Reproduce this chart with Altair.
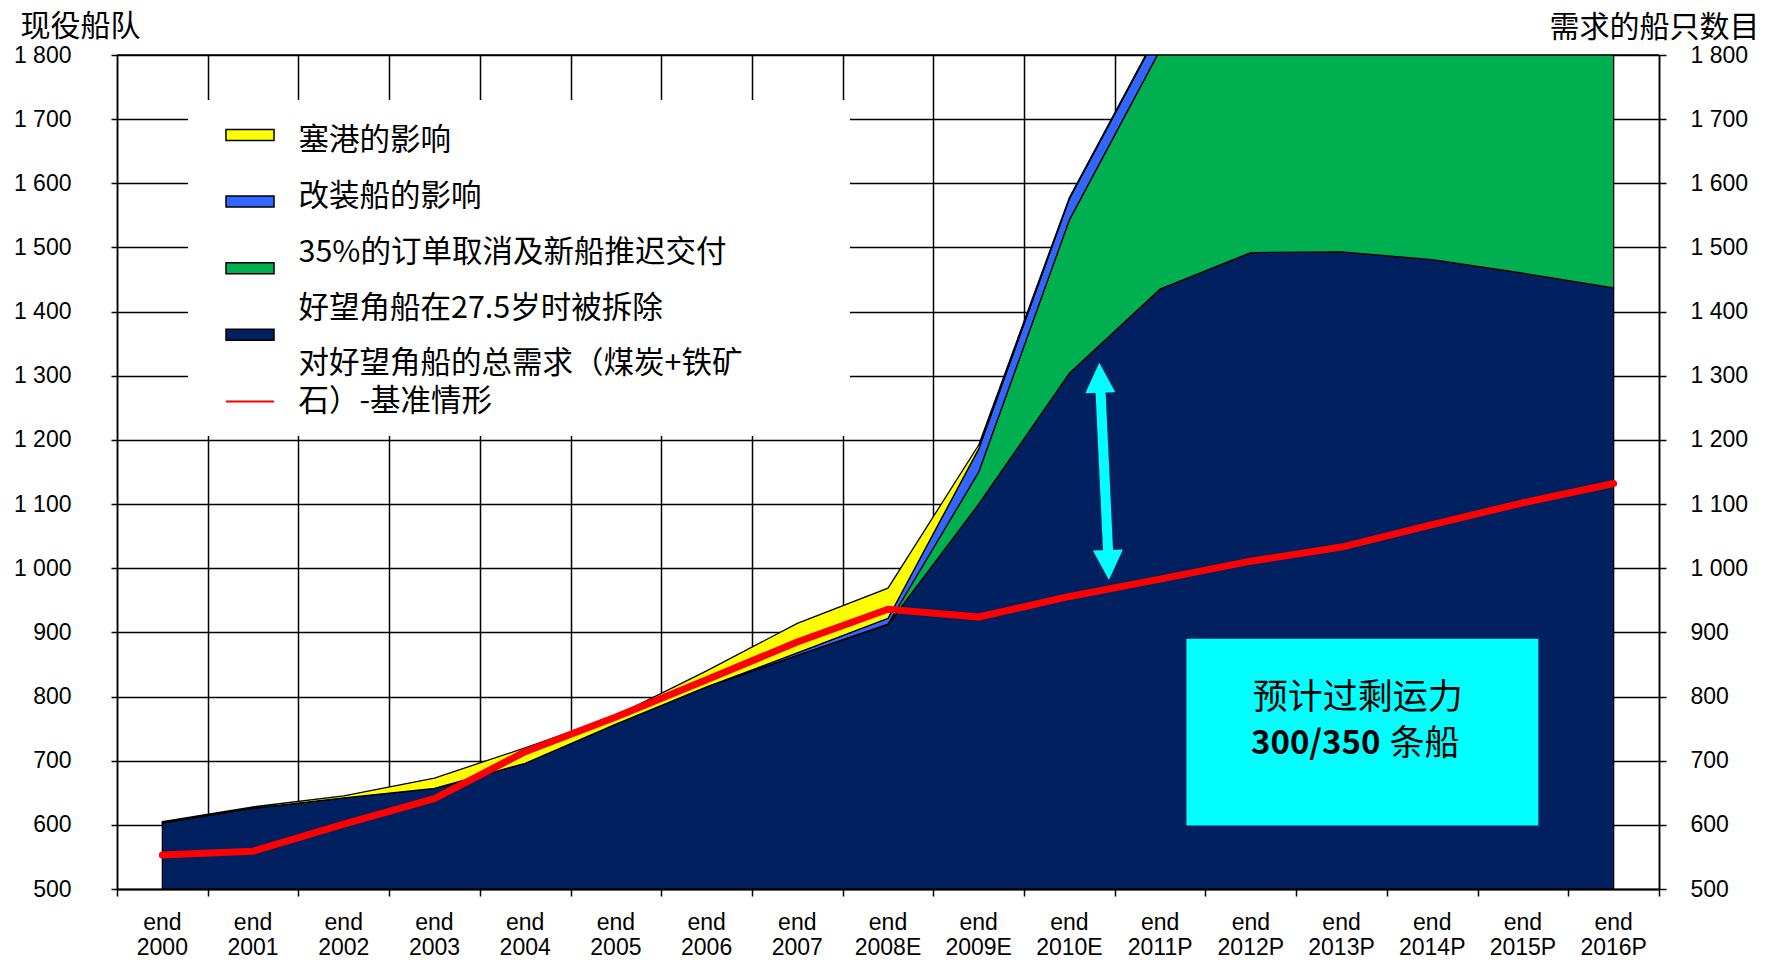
import altair as alt
import pandas as pd

# ---------------- data ----------------
years = ["2000", "2001", "2002", "2003", "2004", "2005", "2006", "2007", "2008E",
         "2009E", "2010E", "2011P", "2012P", "2013P", "2014P", "2015P", "2016P"]
# cumulative tops of the stacked layers (number of ships)
fleet_scrapped = [603, 626, 642, 657, 696, 757, 815, 864, 912, 1100, 1304, 1435, 1492, 1493, 1481, 1460, 1437]
with_cancel = [603, 626, 642, 657, 696, 757, 815, 864, 913, 1150, 1543, 1808, 1950, 2000, 2040, 2070, 2090]
with_convert = [603, 626, 642, 657, 696, 757, 815, 868, 922, 1186, 1576, 1840, 1980, 2030, 2070, 2100, 2120]
with_congest = [605, 628, 645, 673, 720, 770, 840, 914, 969, 1192, 1578, 1842, 1982, 2032, 2072, 2102, 2122]
demand = [553, 559, 601, 641, 714, 768, 826, 885, 936, 924, 956, 983, 1011, 1033, 1068, 1102, 1132]

legend_labels = ["塞港的影响", "改装船的影响", "35%的订单取消及新船推迟交付",
                 "好望角船在27.5岁时被拆除", "对好望角船的总需求（煤炭+铁矿", "石）-基准情形"]
y_ticks = list(range(500, 1801, 100))

NAVY = "#002060"
GREEN = "#00B050"
BLUE = "#3366FF"
YELLOW = "#FFFF00"
RED = "#FF0000"
CYAN = "#00FFFF"

n = len(years)
df = pd.DataFrame({
    "i": list(range(n)),
    "year": years,
    "lab": ["end"] * n,
    "base": [500] * n,
    "navy": fleet_scrapped,
    "green": with_cancel,
    "blue": with_convert,
    "yellow": with_congest,
    "demand": demand,
})

W, H = 1542, 834
CJK = "Noto Sans CJK SC"
LAT = "Liberation Sans"

xscale = alt.Scale(domain=[-0.5, n - 0.5], nice=False, zero=False)
yscale = alt.Scale(domain=[500, 1800], nice=False, zero=False)

x_axis = alt.Axis(values=[k - 0.5 for k in range(n + 1)], labels=False, title=None,
                  grid=True, gridColor="black", gridWidth=1.5, gridOpacity=1,
                  ticks=True, tickSize=7, tickColor="black", tickWidth=1.5,
                  domain=True, domainColor="black", domainWidth=2)

label_expr = ("datum.value >= 1000 ? slice(format(datum.value,'d'),0,1) + ' ' + "
              "slice(format(datum.value,'d'),1) : format(datum.value,'d')")

y_left = alt.Axis(values=y_ticks, labelExpr=label_expr, orient="left", labelOverlap=False,
                  grid=True, gridColor="black", gridWidth=1.5, gridOpacity=1,
                  tickSize=6, tickColor="black", tickWidth=1.5,
                  domain=True, domainColor="black", domainWidth=1.5,
                  labelFont=LAT, labelFontSize=23, labelColor="black", labelPadding=40,
                  title="现役船队", titleAngle=0, titleX=-97, titleY=-29, titleAlign="left",
                  titleBaseline="middle", titleFont=CJK, titleFontSize=30,
                  titleFontWeight="normal", titleColor="black")

y_right = alt.Axis(values=y_ticks, labelExpr=label_expr, orient="right", labelOverlap=False,
                   grid=False, tickSize=7, tickColor="black", tickWidth=1.5,
                   domain=True, domainColor="black", domainWidth=1.5,
                   labelFont=LAT, labelFontSize=23, labelColor="black", labelPadding=24,
                   title="需求的船只数目", titleAngle=0, titleX=100, titleY=-28, titleAlign="right",
                   titleBaseline="middle", titleFont=CJK, titleFontSize=30,
                   titleFontWeight="normal", titleColor="black")

X = alt.X("i:Q", scale=xscale, axis=x_axis)
base = alt.Chart(df)
one = alt.Chart(pd.DataFrame({"a": [0]}))


def band(top, bottom, fill):
    return base.mark_area(fill=fill, fillOpacity=1, stroke="black", strokeWidth=1.3,
                          clip=True, interpolate="linear").encode(
        x=X, y=alt.Y(f"{top}:Q", scale=yscale, axis=y_left), y2=alt.Y2(f"{bottom}:Q"))


layers = [
    band("navy", "base", NAVY),
    band("green", "navy", GREEN),
    band("blue", "green", BLUE),
    band("yellow", "blue", YELLOW),
]

# white legend box covering the grid
layers.append(one.mark_rect(fill="white", stroke=None).encode(
    x=alt.value(71), x2=alt.value(733), y=alt.value(45), y2=alt.value(381)))

# top frame line
layers.append(one.mark_rule(color="black", strokeWidth=1.5).encode(
    y=alt.datum(1800, scale=yscale), x=alt.value(0), x2=alt.value(W)))

# demand line
layers.append(base.mark_line(color=RED, strokeWidth=7, strokeCap="round",
                             strokeJoin="round").encode(
    x=X, y=alt.Y("demand:Q", scale=yscale, axis=y_left)))

# cyan annotation box
layers.append(one.mark_rect(fill=CYAN, stroke=None).encode(
    x=alt.datum(11.29, scale=xscale), x2=alt.datum(15.17),
    y=alt.datum(890, scale=yscale), y2=alt.datum(599)))
layers.append(one.mark_text(font=CJK, fontSize=35, color="black", align="center",
                            baseline="middle").encode(
    x=alt.datum(13.18, scale=xscale), y=alt.datum(798, scale=yscale),
    text=alt.value("预计过剩运力")))
layers.append(one.mark_text(font=CJK, fontSize=33, fontWeight="bold", color="black",
                            align="right", baseline="middle").encode(
    x=alt.datum(13.43, scale=xscale), y=alt.datum(726, scale=yscale),
    text=alt.value("300/350")))
layers.append(one.mark_text(font=CJK, fontSize=35, color="black", align="left",
                            baseline="middle").encode(
    x=alt.datum(13.53, scale=xscale), y=alt.datum(726, scale=yscale),
    text=alt.value("条船")))

# double arrow
layers.append(one.mark_rule(color=CYAN, strokeWidth=10).encode(
    x=alt.datum(10.34, scale=xscale), x2=alt.datum(10.43),
    y=alt.datum(1285, scale=yscale), y2=alt.datum(1015)))
layers.append(one.mark_point(shape="M -1 1 L 1 1 L 0 -1 Z", filled=True, size=900,
                             color=CYAN, opacity=1, angle=358).encode(
    x=alt.datum(10.335, scale=xscale), y=alt.datum(1297, scale=yscale)))
layers.append(one.mark_point(shape="M -1 -1 L 1 -1 L 0 1 Z", filled=True, size=900,
                             color=CYAN, opacity=1, angle=358).encode(
    x=alt.datum(10.43, scale=xscale), y=alt.datum(1005, scale=yscale)))

# legend (pixel layout relative to plot area)
sw_colors = [YELLOW, BLUE, GREEN, NAVY]
for k, c in enumerate(sw_colors):
    yc = 80 + 66.6 * k
    layers.append(one.mark_rect(fill=c, stroke="black", strokeWidth=1.5).encode(
        x=alt.value(109), x2=alt.value(157), y=alt.value(yc - 5.5), y2=alt.value(yc + 5.5)))
layers.append(one.mark_rule(color=RED, strokeWidth=2).encode(
    x=alt.value(109), x2=alt.value(157), y=alt.value(346.5)))
text_y = [85.5, 141.5, 197.5, 253.5, 308.5, 346.5]
for lbl, ty in zip(legend_labels, text_y):
    layers.append(one.mark_text(font=CJK, fontSize=30.5, color="black", align="left",
                                baseline="middle").encode(
        x=alt.value(181.5), y=alt.value(ty), text=alt.value(lbl)))

# category labels
layers.append(base.mark_text(font=LAT, fontSize=23, color="black", baseline="middle").encode(
    x=X, y=alt.value(868), text="lab:N"))
layers.append(base.mark_text(font=LAT, fontSize=23, color="black", baseline="middle").encode(
    x=X, y=alt.value(893), text="year:N"))

main = alt.layer(*layers)

right = base.mark_point(opacity=0).encode(
    x=X, y=alt.Y("demand:Q", scale=yscale, axis=y_right))

chart = alt.layer(main, right).resolve_axis(y="independent").properties(
    width=W, height=H, autosize=alt.AutoSizeParams(type="none"),
    padding={"left": 109, "top": 47, "right": 100, "bottom": 72},
    background="white",
).configure_view(strokeWidth=0)

chart.save("out.html", embed_options={"renderer": "svg", "actions": False})
